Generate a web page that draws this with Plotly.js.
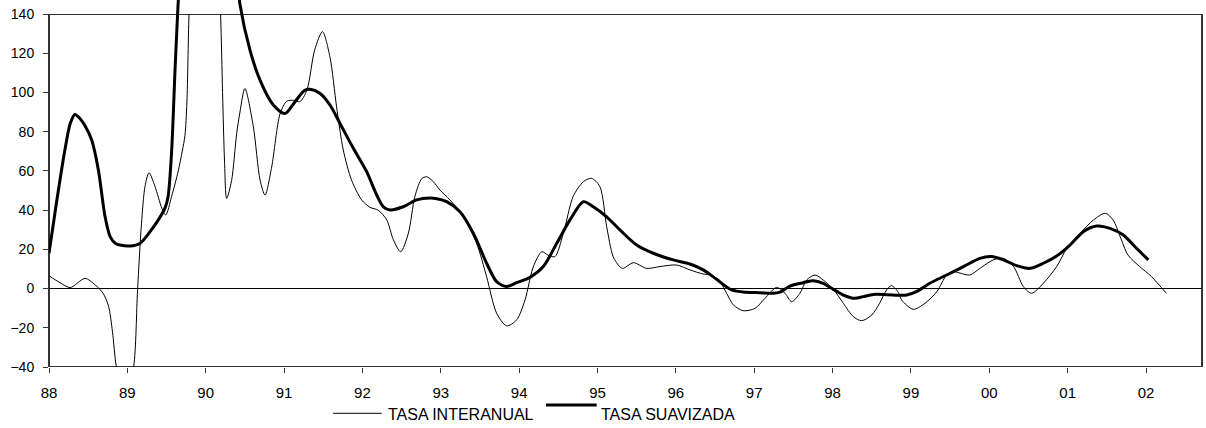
<!DOCTYPE html>
<html>
<head>
<meta charset="utf-8">
<script src="https://cdn.plot.ly/plotly-3.0.1.min.js"></script>
<style>html,body{margin:0;padding:0;background:#fff;}#chart{width:1206px;height:428px;}</style>
</head>
<body>
<div id="chart"></div>
<script>
// ---- data (x = decimal year) ----
var interanualX = [1988.00,1988.14,1988.27,1988.46,1988.59,1988.69,1988.76,1988.81,1988.86,1988.97,1989.08,1989.13,1989.18,1989.225,1989.276,1989.353,1989.44,1989.49,1989.565,1989.65,1989.70,1989.735,1989.76,1989.787,1989.85,1990.00,1990.14,1990.19,1990.215,1990.24,1990.267,1990.33,1990.395,1990.437,1990.50,1990.608,1990.693,1990.757,1990.842,1990.948,1991.033,1991.12,1991.20,1991.29,1991.39,1991.49,1991.586,1991.67,1991.756,1991.86,1991.99,1992.097,1992.20,1992.31,1992.394,1992.488,1992.585,1992.67,1992.756,1992.82,1992.905,1992.99,1993.117,1993.287,1993.458,1993.585,1993.713,1993.84,1993.968,1994.075,1994.18,1994.29,1994.37,1994.457,1994.563,1994.69,1994.82,1994.925,1995.03,1995.117,1995.20,1995.287,1995.33,1995.457,1995.627,1995.797,1996.01,1996.18,1996.35,1996.457,1996.563,1996.648,1996.733,1996.86,1997.01,1997.137,1997.286,1997.393,1997.478,1997.584,1997.67,1997.776,1997.88,1998.01,1998.137,1998.264,1998.37,1998.50,1998.60,1998.69,1998.754,1998.84,1998.88,1999.03,1999.18,1999.33,1999.456,1999.54,1999.75,1999.88,2000.05,2000.18,2000.31,2000.435,2000.54,2000.69,2000.86,2000.99,2001.16,2001.33,2001.48,2001.58,2001.67,2001.77,2001.92,2002.07,2002.26];
var interanualY = [6.5,3,0.5,5.2,1.8,-2.4,-9,-22,-40,-58,-40,-1,33,52,59,52,41,37.5,47,60,70,78,95,140,200,230,190,140,100,65,46,55,79,90,102,82.5,55.4,47.7,62,89,95.5,96,95.3,101,121.6,131,118,92.7,70.6,55.4,45.2,41.4,40,35,25,18.8,28,47,56,57,54.5,50.2,45.2,36.7,23,6,-12.6,-19,-16,-5.8,11,18.8,17,16.3,28,47,54.5,56.2,52,31.6,16.3,11,10.3,13.2,10.3,11.2,12,9.5,7.4,6.9,3.5,-2.4,-8.3,-11.3,-10.1,-5,0.6,-2.4,-6.7,-2.4,4.4,6.9,4.4,-0.4,-7.5,-14.3,-16.4,-13.5,-7.5,-0.7,1.5,-2,-5.8,-10.6,-7.5,-1.6,6.9,8.6,6.9,10.3,14.6,15.4,11.2,1,-2.4,2.7,11.2,20.5,28.2,35,38.4,35,26.5,17.1,11.2,6.1,-2.4];

var suavizadaX = [1988.00,1988.10,1988.20,1988.27,1988.33,1988.40,1988.46,1988.545,1988.63,1988.715,1988.78,1988.85,1988.906,1989.03,1989.16,1989.29,1989.395,1989.48,1989.52,1989.565,1989.61,1989.65,1989.75,1990.00,1990.30,1990.437,1990.565,1990.693,1990.863,1991.012,1991.14,1991.26,1991.33,1991.46,1991.586,1991.714,1991.884,1992.054,1992.182,1992.267,1992.352,1992.52,1992.69,1992.86,1992.95,1993.075,1993.245,1993.415,1993.585,1993.713,1993.84,1993.968,1994.138,1994.308,1994.479,1994.649,1994.819,1994.946,1995.117,1995.287,1995.50,1995.712,1995.967,1996.18,1996.35,1996.52,1996.712,1996.90,1997.07,1997.24,1997.33,1997.456,1997.626,1997.754,1997.88,1998.01,1998.137,1998.286,1998.39,1998.52,1998.69,1998.86,1998.946,1999.07,1999.24,1999.456,1999.67,1999.88,2000.03,2000.18,2000.35,2000.52,2000.69,2000.86,2001.03,2001.20,2001.37,2001.54,2001.71,2001.88,2002.03];
var suavizadaY = [18,45,70,84,88.8,86.5,83,75.7,60.5,36.7,26.5,23,22.2,21.7,23,29,35,41,47,70,113,147,220,280,200,145,121.6,106.3,93.6,89.3,95.3,101,101.6,99.5,93.6,84.2,71.5,59.6,47.7,41.7,40.1,41.7,45.2,46.2,45.8,44.3,39.2,28.2,12.9,3.5,1.0,3,5.7,11.2,23,35,44.3,41.7,36.6,29.9,22.2,18,14.6,12.5,9.5,4.7,-0.7,-1.9,-2.1,-2.4,-1.8,1.3,3,4,2.7,-0.4,-3.3,-5,-4.1,-3,-3.1,-3.4,-3.3,-1.6,2.7,6.9,11.2,15.4,16.3,14.6,11.7,10.3,12.9,16.6,22.2,29,31.9,30.7,27.3,20.5,14.6];

var yearTicks = [1988,1989,1990,1991,1992,1993,1994,1995,1996,1997,1998,1999,2000,2001,2002];
var yearLabels = ['88','89','90','91','92','93','94','95','96','97','98','99','00','01','02'];
var seriesNames = ['TASA INTERANUAL','TASA SUAVIZADA'];

// ---- layout geometry ----
var W = 1206, H = 428;
var plotL = 49, plotR = 1202, plotTop = 14, plotBot = 367;
var yMin = -40, yMax = 140;
var pxPerUnit = (plotBot - plotTop) / (yMax - yMin);
var y2Max = yMin + plotBot / pxPerUnit;   // second axis reaches figure top (unclipped look)
var xMax = 1988 + (plotR - plotL) / ((1146 - 49) / 14);

var font = 'Liberation Sans, Arial, sans-serif';
function px2paperX(X){ return (X - plotL) / (plotR - plotL); }
function px2paperY(Y){ return (plotBot - Y) / plotBot; }

var traces = [
  {x: interanualX, y: interanualY, type: 'scatter', mode: 'lines', name: seriesNames[0],
   line: {color: '#000', width: 1, shape: 'spline', smoothing: 0.8}, xaxis: 'x', yaxis: 'y', hoverinfo: 'skip'},
  {x: suavizadaX, y: suavizadaY, type: 'scatter', mode: 'lines', name: seriesNames[1],
   line: {color: '#000', width: 3, shape: 'spline', smoothing: 0.8}, xaxis: 'x', yaxis: 'y2', hoverinfo: 'skip'}
];

var layout = {
  width: W, height: H, autosize: false,
  margin: {l: plotL, r: W - plotR, t: 0, b: H - plotBot, pad: 0},
  paper_bgcolor: '#fff', plot_bgcolor: 'rgba(0,0,0,0)',
  showlegend: false,
  font: {family: font, color: '#000'},
  xaxis: {
    range: [1988, xMax], anchor: 'y', showgrid: false, zeroline: false, showline: false,
    tickmode: 'array', tickvals: yearTicks, ticktext: yearLabels,
    ticks: 'outside', ticklen: 5, tickwidth: 1, tickcolor: '#333',
    tickfont: {family: font, size: 15, color: '#000'}, ticklabelstandoff: 7, fixedrange: true
  },
  yaxis: {
    domain: [0, (plotBot - plotTop) / plotBot], range: [yMin, yMax], showgrid: false,
    zeroline: true, zerolinecolor: '#000', zerolinewidth: 1, showline: false,
    tickmode: 'linear', tick0: -40, dtick: 20,
    ticks: 'outside', ticklen: 5, tickwidth: 1, tickcolor: '#333',
    tickfont: {family: font, size: 14, color: '#000'}, ticklabelstandoff: 6, fixedrange: true
  },
  yaxis2: {
    domain: [0, 1], range: [yMin, y2Max], visible: false, anchor: 'x', fixedrange: true
  },
  shapes: [
    {type: 'rect', xref: 'paper', yref: 'y', x0: 0, x1: 1, y0: yMin, y1: yMax,
     line: {color: '#333', width: 2}, fillcolor: 'rgba(0,0,0,0)', layer: 'below'},
    {type: 'line', xref: 'paper', yref: 'paper', x0: px2paperX(333), x1: px2paperX(381.7),
     y0: px2paperY(413.3), y1: px2paperY(413.3), line: {color: '#000', width: 1}},
    {type: 'line', xref: 'paper', yref: 'paper', x0: px2paperX(546), x1: px2paperX(596.7),
     y0: px2paperY(405), y1: px2paperY(405), line: {color: '#000', width: 3}}
  ],
  annotations: [
    {text: seriesNames[0], xref: 'paper', yref: 'paper', x: px2paperX(386), y: px2paperY(414.2),
     xanchor: 'left', yanchor: 'middle', showarrow: false, font: {family: font, size: 16, color: '#000'}},
    {text: seriesNames[1], xref: 'paper', yref: 'paper', x: px2paperX(599), y: px2paperY(414.2),
     xanchor: 'left', yanchor: 'middle', showarrow: false, font: {family: font, size: 16, color: '#000'}}
  ]
};

Plotly.newPlot('chart', traces, layout, {staticPlot: true, displayModeBar: false});
</script>
</body>
</html>
